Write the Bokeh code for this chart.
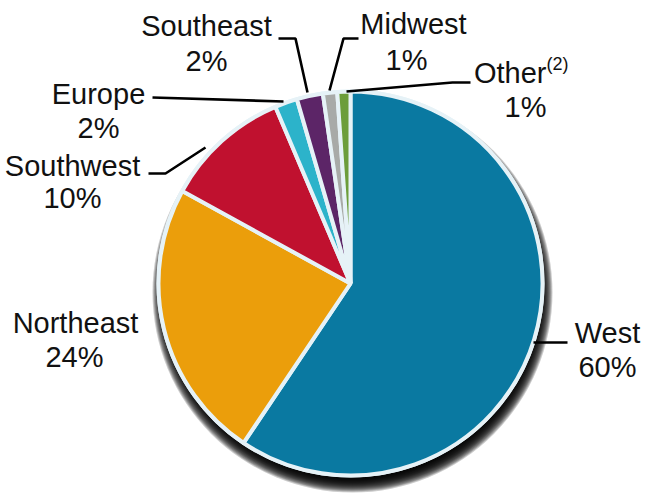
import numpy as np
from bokeh.plotting import figure
from bokeh.models import Range1d
from bokeh.embed import file_html
from bokeh.resources import INLINE
from bokeh.core.properties import value

# ---- data ----
regions = ["West", "Northeast", "Southwest", "Europe", "Southeast", "Midwest", "Other"]
shares = [59.4, 23.6, 10.6, 1.9, 2.2, 1.2, 1.1]
pct_labels = ["60%", "24%", "10%", "2%", "2%", "1%", "1%"]
colors = ["#0a79a1", "#eb9e0b", "#c0112f", "#2cb3ca", "#5c2567", "#a8aaa8", "#6c9d3b"]

# ---- layout (image pixel coordinates) ----
W, H = 649, 496
def Y(y):
    return H - y

CX, CY, R = 350, 283, 192
FONT = value("Liberation Sans")
FS = "29px"
TDY = -10  # text vertical correction

p = figure(width=W, height=H, x_range=Range1d(0, W), y_range=Range1d(0, H),
           output_backend="svg", toolbar_location=None, min_border=0,
           x_axis_type=None, y_axis_type=None)
p.grid.visible = False
p.outline_line_color = None
p.background_fill_color = "white"
p.border_fill_color = "white"

# shadow (stacked translucent discs)
SX, SY = 2, 9
for i in range(18):
    p.circle(x=[CX + SX], y=[Y(CY + SY)], radius=R + 8 - i, fill_color="black",
             fill_alpha=0.2, line_color=None)

# light outer band
p.circle(x=[CX], y=[Y(CY)], radius=R + 2, fill_color="#e6f2f7", line_color=None)

# pie slices
vals = np.array(shares, dtype=float)
frac = vals / vals.sum()
cum_end = np.cumsum(frac) * 2 * np.pi
cum_start = cum_end - frac * 2 * np.pi
start_angles = np.pi / 2 - cum_end
end_angles = np.pi / 2 - cum_start
p.wedge(x=[CX] * len(regions), y=[Y(CY)] * len(regions), radius=R,
        start_angle=list(start_angles), end_angle=list(end_angles),
        direction="anticlock", fill_color=colors, line_color="#e6f2f7", line_width=4)

# leader lines
leaders = [
    [(533, 342), (567, 342)],                       # West
    [(148, 173), (165, 173), (205, 147)],           # Southwest
    [(152, 97), (283, 101)],                        # Europe
    [(278, 38), (295, 38), (307, 92)],              # Southeast
    [(358, 38), (343, 38), (329, 90)],              # Midwest
    [(346, 91), (452, 82), (470, 82)],              # Other
]
for pts in leaders:
    p.line(x=[a for a, b in pts], y=[Y(b) for a, b in pts], line_color="black",
           line_width=2.6)

# labels: name (first line) and percentage (second line)
name_pos = {
    "West": (607, 342), "Northeast": (75, 332), "Southwest": (72, 175),
    "Europe": (98, 103), "Southeast": (206, 35), "Midwest": (413, 33),
}
pct_pos = {
    "West": (607, 376), "Northeast": (74, 366), "Southwest": (72, 207),
    "Europe": (98, 137), "Southeast": (206, 70), "Midwest": (406, 69),
    "Other": (525, 116),
}
names = [r for r in regions if r in name_pos]
p.text(x=[name_pos[r][0] for r in names], y=[Y(name_pos[r][1] + TDY) for r in names],
       text=names, text_font=FONT, text_font_size=FS, text_align="center",
       text_baseline="alphabetic", text_color="#111111")
p.text(x=[pct_pos[r][0] for r in regions], y=[Y(pct_pos[r][1] + TDY) for r in regions],
       text=pct_labels, text_font=FONT, text_font_size=FS, text_align="center",
       text_baseline="alphabetic", text_color="#111111")
# "Other" with superscript
p.text(x=[546], y=[Y(82 + TDY)], text=["Other"], text_font=FONT, text_font_size=FS,
       text_align="right", text_baseline="alphabetic", text_color="#111111")
p.text(x=[546], y=[Y(73 + TDY)], text=["(2)"], text_font=FONT, text_font_size="18px",
       text_align="left", text_baseline="alphabetic", text_color="#111111")

open("out.html", "w").write(file_html(p, INLINE))
